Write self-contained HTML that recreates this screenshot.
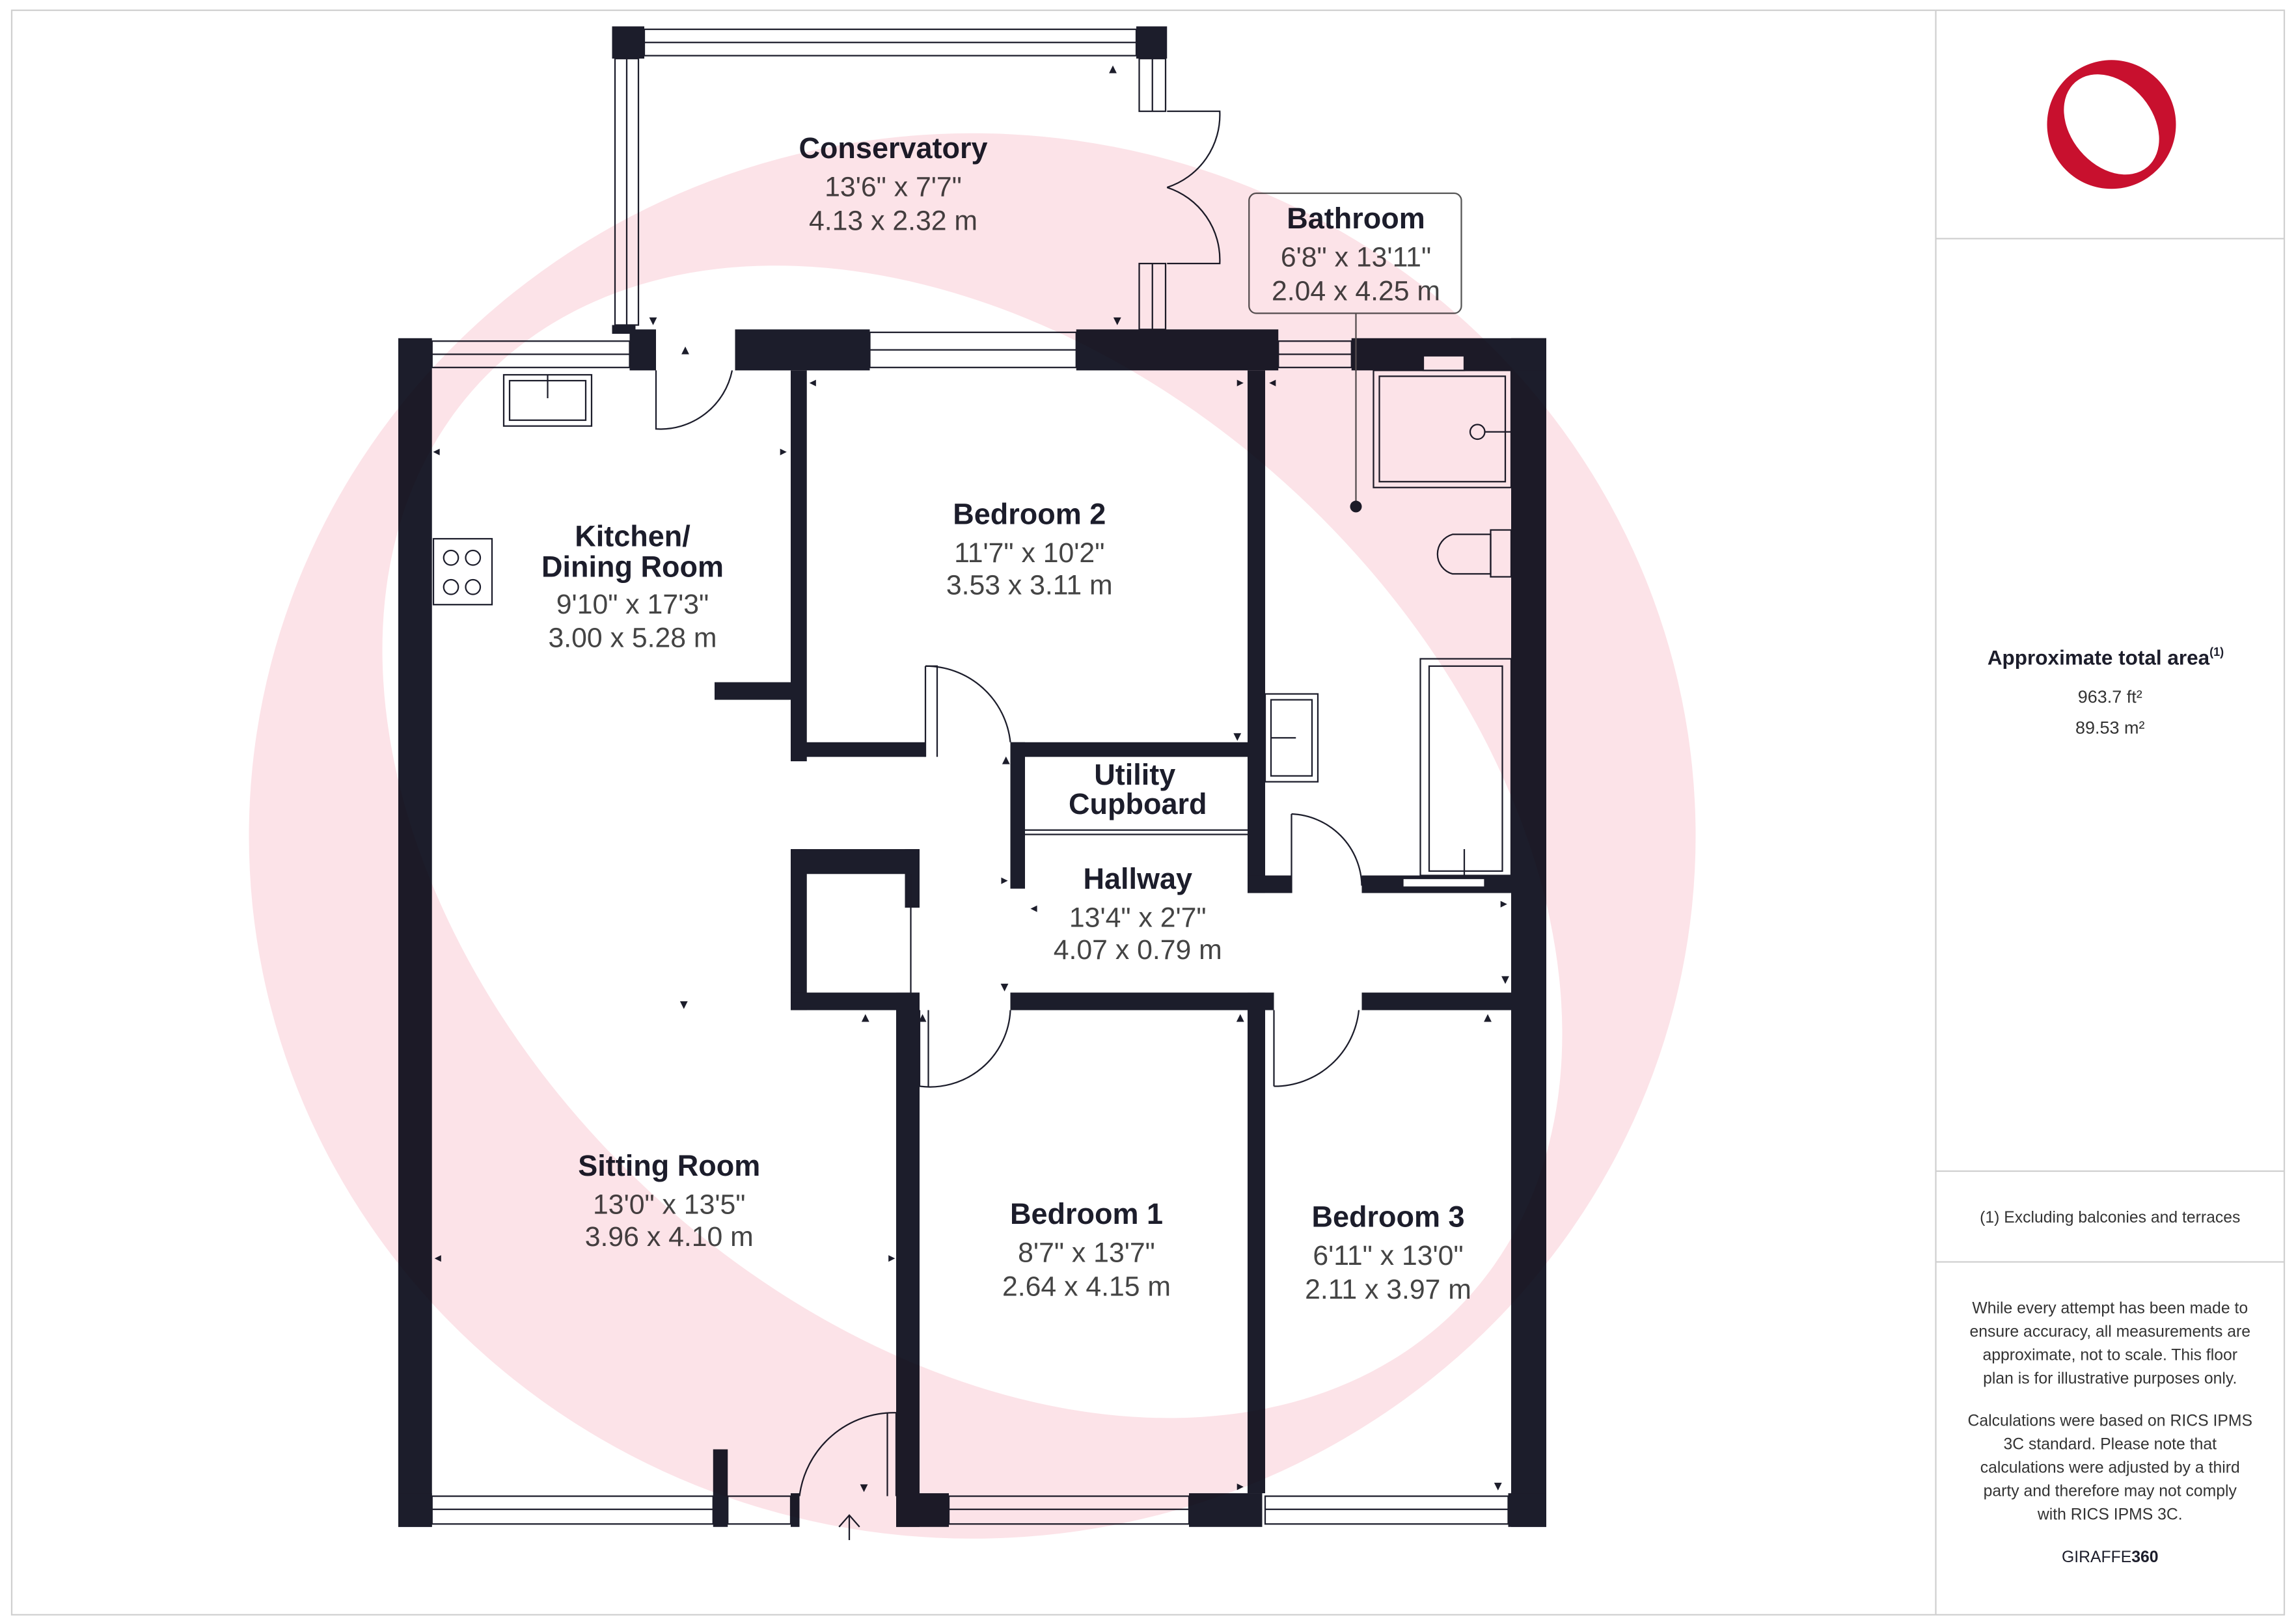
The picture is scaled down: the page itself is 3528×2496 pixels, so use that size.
<!DOCTYPE html>
<html><head><meta charset="utf-8"><style>html,body{margin:0;padding:0;background:#fff}svg{display:block}</style></head>
<body>
<svg width="3528" height="2496" viewBox="0 0 1568 1109.3" xmlns="http://www.w3.org/2000/svg" font-family="Liberation Sans, sans-serif">
<defs>
<mask id="ring">
<rect x="0" y="0" width="1568" height="1110" fill="#000"/>
<ellipse cx="664" cy="571" rx="494" ry="480" fill="#fff"/>
<ellipse cx="664" cy="575" rx="460" ry="325" transform="rotate(43 664 575)" fill="#000"/>
</mask>
<mask id="logo">
<rect x="1380" y="20" width="130" height="130" fill="#000"/>
<ellipse cx="1442" cy="85" rx="44" ry="44" fill="#fff"/>
<ellipse cx="1442" cy="85" rx="38" ry="28" transform="rotate(50 1442 85)" fill="#000"/>
</mask>
</defs>
<rect x="0" y="0" width="1568" height="1110" fill="#fff"/>
<rect x="8" y="7" width="1552" height="1096" fill="none" stroke="#d0d0d0" stroke-width="1"/>
<line x1="1322" y1="7" x2="1322" y2="1103" stroke="#d0d0d0"/>
<line x1="1322" y1="163" x2="1560" y2="163" stroke="#d0d0d0"/>
<line x1="1322" y1="800" x2="1560" y2="800" stroke="#d0d0d0"/>
<line x1="1322" y1="862" x2="1560" y2="862" stroke="#d0d0d0"/>
<rect x="1380" y="20" width="130" height="130" fill="#c8102e" mask="url(#logo)"/>
<g fill="#1c1d2b">
<rect x="272" y="231" width="23" height="812"/>
<rect x="1032" y="231" width="24" height="812"/>
<rect x="502" y="225" width="92" height="28"/>
<rect x="735" y="225" width="138" height="28"/>
<rect x="923" y="231" width="133" height="22"/>
<rect x="430" y="225" width="18" height="28"/>
<rect x="272" y="1020" width="23" height="23"/>
<rect x="487" y="990" width="10" height="53"/>
<rect x="540" y="1020" width="6" height="23"/>
<rect x="612" y="1020" width="36" height="23"/>
<rect x="812" y="1020" width="50" height="23"/>
<rect x="1030" y="1020" width="26" height="23"/>
<rect x="418" y="18" width="22" height="22"/>
<rect x="776" y="18" width="21" height="22"/>
<rect x="418" y="222" width="16" height="6"/>
<rect x="540" y="253" width="11" height="267"/>
<rect x="488" y="466" width="52" height="12"/>
<rect x="540" y="507" width="92" height="10"/>
<rect x="690" y="507" width="162" height="10"/>
<rect x="852" y="253" width="12" height="357"/>
<rect x="690" y="507" width="10" height="100"/>
<rect x="852" y="598" width="30" height="12"/>
<rect x="930" y="598" width="102" height="12"/>
<rect x="690" y="678" width="162" height="12"/>
<rect x="852" y="678" width="18" height="12"/>
<rect x="930" y="678" width="102" height="12"/>
<rect x="540" y="580" width="11" height="110"/>
<rect x="540" y="580" width="88" height="17"/>
<rect x="618" y="580" width="10" height="40"/>
<rect x="540" y="678" width="88" height="12"/>
<rect x="612" y="678" width="16" height="365"/>
<rect x="852" y="678" width="12" height="342"/>
</g>
<g fill="none" stroke="#1c1d2b" stroke-width="1">
<rect x="295" y="233" width="135" height="18"/><line x1="295" y1="242" x2="430" y2="242"/>
<rect x="594" y="227" width="141" height="24"/><line x1="594" y1="239" x2="735" y2="239"/>
<rect x="873" y="233" width="50" height="18"/><line x1="873" y1="242" x2="923" y2="242"/>
<rect x="295" y="1022" width="192" height="19"/><line x1="295" y1="1031" x2="487" y2="1031"/>
<rect x="497" y="1022" width="43" height="19"/>
<rect x="648" y="1022" width="164" height="19"/><line x1="648" y1="1031" x2="812" y2="1031"/>
<rect x="864" y="1022" width="166" height="19"/><line x1="864" y1="1031" x2="1030" y2="1031"/>
<rect x="440" y="20" width="336" height="18"/><line x1="440" y1="29" x2="776" y2="29"/>
<rect x="420" y="40" width="16" height="182"/><line x1="428" y1="40" x2="428" y2="222"/>
<rect x="778" y="40" width="18" height="36"/><line x1="787" y1="40" x2="787" y2="76"/>
<rect x="778" y="180" width="18" height="45"/><line x1="787" y1="180" x2="787" y2="225"/>
<path d="M797,76 H833 A52,52 0 0 1 797,128"/>
<path d="M797,180 H833 A52,52 0 0 0 797,128"/>
<path d="M448,253 V293 A50,50 0 0 0 500,253"/>
<path d="M632,455 V517 M632,455 A58,58 0 0 1 690,507"/>
<path d="M632,455 H640 V517"/>
<path d="M882,556 V610 M882,556 A50,50 0 0 1 930,605"/>
<path d="M628,742 V690 M628,742 A55,55 0 0 0 690,690"/>
<path d="M634,742 V690"/>
<path d="M870,742 V690 M870,742 A58,58 0 0 0 928,690"/>
<path d="M546,1022 A65,65 0 0 1 612,965 V1022"/>
<path d="M606,965 V1022"/>
<line x1="622" y1="597" x2="622" y2="678"/>
<line x1="700" y1="570" x2="852" y2="570"/>
<line x1="700" y1="567" x2="852" y2="567"/>
<rect x="344" y="256" width="60" height="35"/><rect x="348" y="260" width="52" height="27"/><line x1="374" y1="256" x2="374" y2="272"/>
<rect x="296" y="368" width="40" height="45"/><circle cx="308" cy="381" r="5"/><circle cx="323" cy="381" r="5"/><circle cx="308" cy="401" r="5"/><circle cx="323" cy="401" r="5"/>
<rect x="938" y="253" width="94" height="80"/><rect x="942" y="257" width="86" height="72"/><circle cx="1009" cy="295" r="5"/><line x1="1014" y1="295" x2="1032" y2="295"/>
<rect x="972" y="243" width="28" height="10" fill="#fff"/>
<path d="M1018,365 H992 A14,14 0 0 0 992,392 H1018 Z"/><rect x="1018" y="362" width="14" height="32"/>
<rect x="970" y="450" width="62" height="148"/><rect x="976" y="455" width="50" height="140"/>
<line x1="1000" y1="580" x2="1000" y2="598"/>
<rect x="864" y="474" width="36" height="60"/><rect x="868" y="478" width="28" height="52"/><line x1="868" y1="504" x2="885" y2="504"/>
<rect x="853" y="132" width="145" height="82" rx="5" fill="#fff" stroke="#555"/>
<line x1="926" y1="214" x2="926" y2="346" stroke="#555"/>
<line x1="580" y1="1035" x2="580" y2="1052"/><path d="M573,1043 L580,1035 L587,1043"/>
</g>
<circle cx="926" cy="346" r="4" fill="#1c1d2b"/>
<rect x="958" y="600" width="56" height="6" fill="#fff" stroke="#1c1d2b"/>
<g fill="#1c1d2b" font-size="9" text-anchor="middle">
<text x="760" y="50">▲</text><text x="763" y="222">▼</text><text x="446" y="222">▼</text><text x="468" y="242">▲</text>
<text x="298" y="311">◂</text><text x="535" y="311">▸</text><text x="555" y="264">◂</text><text x="847" y="264">▸</text><text x="869" y="264">◂</text>
<text x="687" y="522">▲</text><text x="845" y="506">▼</text><text x="686" y="604">▸</text><text x="706" y="623">◂</text><text x="1027" y="620">▸</text><text x="1028" y="672">▼</text>
<text x="467" y="689">▼</text><text x="591" y="698">▲</text><text x="686" y="677">▼</text><text x="847" y="698">▲</text><text x="1016" y="698">▲</text><text x="630" y="698">▲</text>
<text x="299" y="862">◂</text><text x="609" y="862">▸</text><text x="590" y="1019">▼</text><text x="847" y="1018">▸</text><text x="1023" y="1018">▼</text>
</g>
<g text-anchor="middle" fill="#1c1d2b">
<g font-weight="bold" font-size="20">
<text x="610" y="108">Conservatory</text>
<text x="926" y="156">Bathroom</text>
<text x="432" y="373">Kitchen/</text><text x="432" y="394">Dining Room</text>
<text x="703" y="358">Bedroom 2</text>
<text x="775" y="536">Utility</text><text x="777" y="556">Cupboard</text>
<text x="777" y="607">Hallway</text>
<text x="457" y="803">Sitting Room</text>
<text x="742" y="836">Bedroom 1</text>
<text x="948" y="838">Bedroom 3</text>
</g>
<g font-size="19" fill="#444">
<text x="610" y="134">13'6" x 7'7"</text><text x="610" y="157">4.13 x 2.32 m</text>
<text x="926" y="182">6'8" x 13'11"</text><text x="926" y="205">2.04 x 4.25 m</text>
<text x="432" y="419">9'10" x 17'3"</text><text x="432" y="442">3.00 x 5.28 m</text>
<text x="703" y="384">11'7" x 10'2"</text><text x="703" y="406">3.53 x 3.11 m</text>
<text x="777" y="633">13'4" x 2'7"</text><text x="777" y="655">4.07 x 0.79 m</text>
<text x="457" y="829">13'0" x 13'5"</text><text x="457" y="851">3.96 x 4.10 m</text>
<text x="742" y="862">8'7" x 13'7"</text><text x="742" y="885">2.64 x 4.15 m</text>
<text x="948" y="864">6'11" x 13'0"</text><text x="948" y="887">2.11 x 3.97 m</text>
</g>
<text x="1438" y="454" font-size="14" font-weight="bold">Approximate total area<tspan font-size="8" dy="-6">(1)</tspan></text>
<text x="1441" y="480" font-size="12" fill="#333">963.7 ft²</text>
<text x="1441" y="501" font-size="12" fill="#333">89.53 m²</text>
<text x="1441" y="835" font-size="11" fill="#333">(1) Excluding balconies and terraces</text>
<g font-size="11" fill="#333">
<text x="1441" y="897">While every attempt has been made to</text>
<text x="1441" y="913">ensure accuracy, all measurements are</text>
<text x="1441" y="929">approximate, not to scale. This floor</text>
<text x="1441" y="945">plan is for illustrative purposes only.</text>
<text x="1441" y="974">Calculations were based on RICS IPMS</text>
<text x="1441" y="990">3C standard. Please note that</text>
<text x="1441" y="1006">calculations were adjusted by a third</text>
<text x="1441" y="1022">party and therefore may not comply</text>
<text x="1441" y="1038">with RICS IPMS 3C.</text>
</g>
<text x="1441" y="1067" font-size="11" fill="#1c1d2b">GIRAFFE<tspan font-weight="bold">360</tspan></text>
</g>
<rect x="0" y="0" width="1568" height="1110" fill="#fce3e8" mask="url(#ring)" style="mix-blend-mode:multiply"/>
</svg>
</body></html>
